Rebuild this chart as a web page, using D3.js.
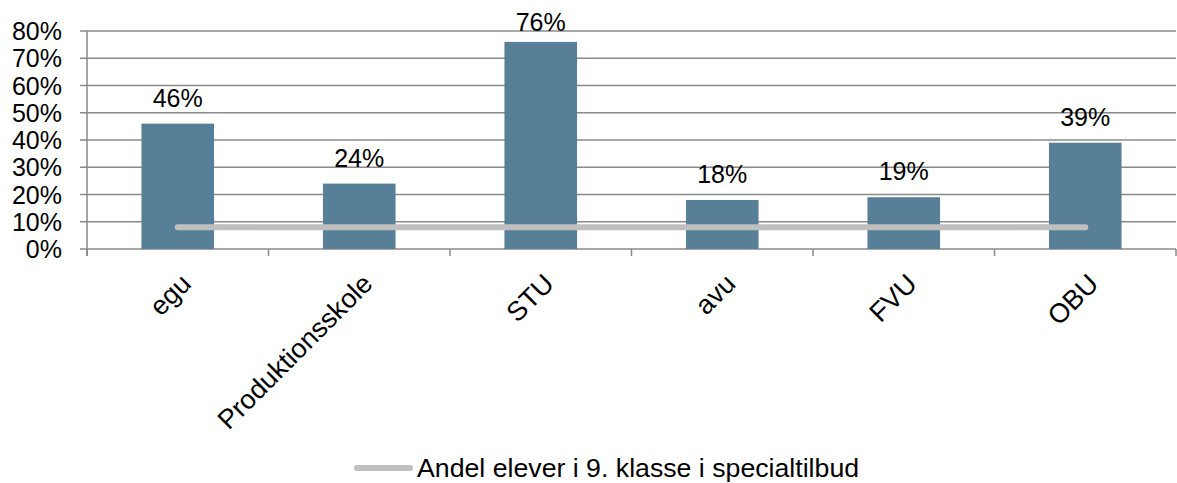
<!DOCTYPE html>
<html>
<head>
<meta charset="utf-8">
<script src="https://cdn.jsdelivr.net/npm/d3@7"></script>
<style>
  body { margin: 0; background: #fff; }
  text { font-family: "Liberation Sans", Arial, sans-serif; fill: #000; }
</style>
</head>
<body>
<script>
// data
const categories = ['egu', 'Produktionsskole', 'STU', 'avu', 'FVU', 'OBU'];
const barValues = [0.46, 0.24, 0.76, 0.18, 0.19, 0.39];
const lineValues = [0.08, 0.08, 0.08, 0.08, 0.08, 0.08];
const yTicks = [0, 0.1, 0.2, 0.3, 0.4, 0.5, 0.6, 0.7, 0.8];
const lineLabel = 'Andel elever i 9. klasse i specialtilbud';

const width = 1177, height = 483;
const margin = {top: 31, right: 1, bottom: 234, left: 87};
const w = width - margin.left - margin.right;
const h = height - margin.top - margin.bottom;
const numSize = 25;    // tick and value labels
const labelSize = 27;  // category labels and legend

const svg = d3.select('body').append('svg')
  .attr('width', width)
  .attr('height', height);

const g = svg.append('g')
  .attr('transform', 'translate(' + margin.left + ',' + margin.top + ')');

const x = d3.scaleBand()
  .domain(categories)
  .range([0, w])
  .paddingInner(0.6)
  .paddingOuter(0.3);

const xc = d3.scalePoint()
  .domain(categories)
  .range([0, w])
  .padding(0.5);

const y = d3.scaleLinear()
  .domain([0, 0.8])
  .range([h, 0]);

// gridlines
g.selectAll('line.grid')
  .data(yTicks)
  .join('line')
  .attr('class', 'grid')
  .attr('x1', -7)
  .attr('x2', w)
  .attr('y1', d => y(d))
  .attr('y2', d => y(d))
  .attr('stroke', '#8a8a8a')
  .attr('stroke-width', 1.5);

// y tick labels
g.selectAll('text.ytick')
  .data(yTicks)
  .join('text')
  .attr('class', 'ytick')
  .attr('text-anchor', 'end')
  .attr('x', -25)
  .attr('y', d => y(d) + 9)
  .style('font-size', numSize + 'px')
  .text(d => Math.round(d * 100) + '%');

// y axis line
g.append('line')
  .attr('x1', 0).attr('x2', 0)
  .attr('y1', 0).attr('y2', h + 7)
  .attr('stroke', '#8a8a8a')
  .attr('stroke-width', 1.5);

// category ticks at band boundaries
const step = x.step();
g.selectAll('line.xtick')
  .data(d3.range(categories.length + 1))
  .join('line')
  .attr('class', 'xtick')
  .attr('x1', i => i * step)
  .attr('x2', i => i * step)
  .attr('y1', h)
  .attr('y2', h + 7)
  .attr('stroke', '#8a8a8a')
  .attr('stroke-width', 1.5);

// bars
g.selectAll('rect.bar')
  .data(barValues)
  .join('rect')
  .attr('class', 'bar')
  .attr('x', (d, i) => x(categories[i]))
  .attr('y', d => y(d))
  .attr('width', x.bandwidth())
  .attr('height', d => h - y(d))
  .attr('fill', '#587f98');

// value labels (kept inside the top of the chart)
g.selectAll('text.val')
  .data(barValues)
  .join('text')
  .attr('class', 'val')
  .attr('text-anchor', 'middle')
  .attr('x', (d, i) => xc(categories[i]))
  .attr('y', d => Math.max(y(d) - 17, 0))
  .style('font-size', numSize + 'px')
  .text(d => Math.round(d * 100) + '%');

// line series
const line = d3.line()
  .x((d, i) => xc(categories[i]))
  .y(d => y(d));

g.append('path')
  .datum(lineValues)
  .attr('d', line)
  .attr('fill', 'none')
  .attr('stroke', '#bfbfbf')
  .attr('stroke-width', 6)
  .attr('stroke-linecap', 'round');

// rotated category labels
g.selectAll('text.cat')
  .data(categories)
  .join('text')
  .attr('class', 'cat')
  .attr('text-anchor', 'end')
  .attr('transform', d => 'translate(' + (xc(d) + 1.5) + ',' + (h + 23) + ') rotate(-45)')
  .attr('dy', '0.7em')
  .style('font-size', labelSize + 'px')
  .text(d => d);

// legend
const legend = svg.append('g')
  .attr('transform', 'translate(357,468)');

legend.append('line')
  .attr('x1', 0).attr('x2', 53)
  .attr('stroke', '#bfbfbf')
  .attr('stroke-width', 6)
  .attr('stroke-linecap', 'round');

legend.append('text')
  .attr('x', 60)
  .attr('y', 8.5)
  .style('font-size', (labelSize - 0.3) + 'px')
  .text(lineLabel);
</script>
</body>
</html>
